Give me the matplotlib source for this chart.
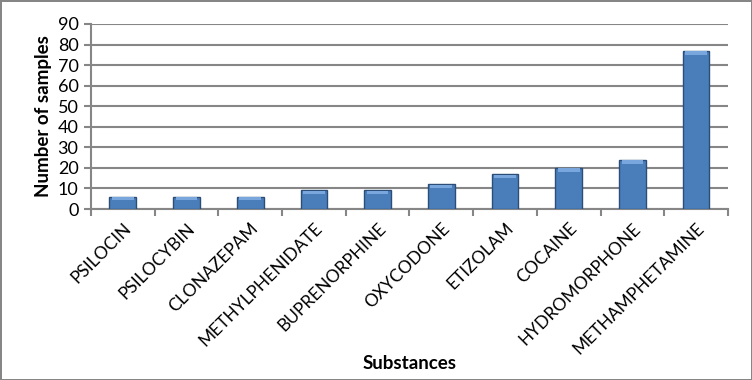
import matplotlib.pyplot as plt
import numpy as np

substances = ["PSILOCIN", "PSILOCYBIN", "CLONAZEPAM", "METHYLPHENIDATE",
              "BUPRENORPHINE", "OXYCODONE", "ETIZOLAM", "COCAINE",
              "HYDROMORPHONE", "METHAMPHETAMINE"]
samples = [6, 6, 6, 9, 9, 12, 17, 20, 24, 77]

plt.rcParams["font.family"] = ["Lato", "DejaVu Sans"]
grey = "#868686"

fig = plt.figure(figsize=(7.52, 3.8), dpi=100, linewidth=2, edgecolor=grey)
ax = fig.add_axes([0.121, 0.45, 0.847, 0.487])

x = np.arange(len(substances))
ax.bar(x, samples, width=0.42, color="#4a7ebb", edgecolor="#2c4d75",
       linewidth=1, zorder=3)
# lighter top face to suggest the bevel
cap = [min(1.6, v * 0.2) for v in samples]
ax.bar(x, cap, bottom=[v - c - 0.3 for v, c in zip(samples, cap)],
       width=0.34, color="#78a6dd", linewidth=0, zorder=4)

ax.set_xlim(-0.5, len(substances) - 0.5)
ax.set_ylim(0, 90)
ax.set_yticks(range(0, 91, 10))
ax.yaxis.grid(True, color=grey, linewidth=1.5, zorder=0)
ax.set_axisbelow(True)

ax.set_xticks(x)
ax.set_xticklabels(substances, rotation=45, ha="right", rotation_mode="anchor",
                   fontsize=12.5)
ax.tick_params(axis="x", length=0, pad=8)
ax.set_xticks(np.arange(-0.5, len(substances)), minor=True)
ax.tick_params(axis="x", which="minor", length=5, width=1.5, color=grey)
ax.tick_params(axis="y", length=5, width=1.5, color=grey, labelsize=13, pad=4)

for side in ["top", "right"]:
    ax.spines[side].set_visible(False)
for side in ["left", "bottom"]:
    ax.spines[side].set_color(grey)
    ax.spines[side].set_linewidth(1.5)

ax.set_ylabel("Number of samples", fontsize=13.5, fontweight="bold", labelpad=4)
fig.text(0.545, 0.03, "Substances", fontsize=13.5, fontweight="bold", ha="center")

fig.savefig("out.png", dpi=100)
